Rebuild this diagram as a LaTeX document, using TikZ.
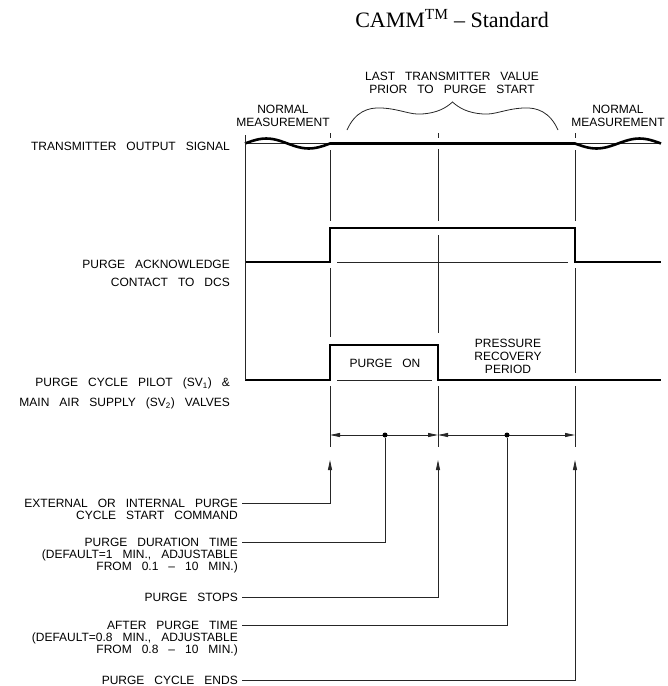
\documentclass[tikz,border=0pt]{standalone}
\usepackage{fontspec}
\newfontfamily\cadfont[WordSpace=3]{Liberation Sans}
\newfontfamily\titlefont{Liberation Serif}
\usetikzlibrary{arrows.meta}

\begin{document}
\begin{tikzpicture}[x=1pt, y=-1pt, >={Stealth[length=10pt,width=4pt,inset=0pt]},
    lbl/.style={font=\cadfont\fontsize{12}{13}\selectfont, inner sep=0pt, align=center},
    note/.style={font=\cadfont\fontsize{12}{12.2}\selectfont, inner sep=0pt, align=right},
    signal/.style={line width=2.6pt, line join=miter},
    guide/.style={line width=0.8pt, black!85},
    dot/.style={circle, fill, inner sep=0pt, minimum size=5pt}]
    \useasboundingbox (0,0) rectangle (668,686);

    % Title
    \node[font=\titlefont\fontsize{22}{24}\selectfont, anchor=base] (title) at (452,27) {CAMM\textsuperscript{TM} – Standard};

    % Top labels
    \node[lbl] (nm1) at (283,116) {NORMAL\\MEASUREMENT};
    \node[lbl] (nm2) at (618,116) {NORMAL\\MEASUREMENT};
    \node[lbl] (last) at (452,83) {LAST TRANSMITTER VALUE\\PRIOR TO PURGE START};
    \draw[guide] (347,130) .. controls (355,112) and (368,107) .. (382,108)
        .. controls (400,109) and (410,115) .. (422,114)
        .. controls (437,113) and (446,108) .. (452.5,102)
        .. controls (459,108) and (468,113) .. (483,114)
        .. controls (495,115) and (505,109) .. (523,108)
        .. controls (537,107) and (550,112) .. (558,130);

    % Signal labels
    \node[lbl, anchor=east] (tos) at (230,146) {TRANSMITTER OUTPUT SIGNAL};
    \node[note, anchor=north east] (ack) at (230,259.7) {PURGE ACKNOWLEDGE\\[6pt]CONTACT TO DCS};
    \node[note, anchor=north east] (sv) at (230,377.3) {PURGE CYCLE PILOT (SV\textsubscript{1}) \&\\[8pt]MAIN AIR SUPPLY (SV\textsubscript{2}) VALVES};

    % Signals
    \draw[guide] (245,143) -- (330,143);
    \draw[guide] (575,143) -- (661,143);
    \draw[signal] plot[smooth, domain=245:330, samples=25] (\x,{143.5-5*sin(4.235*(\x-245))})
        -- (575,143.5) -- plot[smooth, domain=575:661, samples=25] (\x,{143.5+5*sin(4.186*(\x-575))});
    \draw[signal] (245,262) -- (330,262) -- (330,228) -- (575,228) -- (575,262) -- (661,262);
    \draw[guide] (337,262) -- (568,262);
    \draw[signal] (245,380) -- (330,380) -- (330,345) -- (438,345) -- (438,380) -- (661,380);
    \draw[guide] (337,380) -- (432,380);
    \node[lbl] (on) at (385,363) {PURGE ON};
    \node[lbl] (rec) at (508,356) {PRESSURE\\RECOVERY\\PERIOD};

    % Time lines
    \draw[guide] (245,135) -- (245,380);
    \foreach \x/\ya/\yb in {330/133/138, 330/150/221, 330/268/337, 330/386/447,
        438/133/138, 438/149/221, 438/235/333, 438/386/447,
        575/133/138, 575/150/221, 575/268/373, 575/386/447}
        \draw[guide] (\x,\ya) -- (\x,\yb);

    % Durations
    \coordinate (d1) at (330,435);
    \coordinate (d2) at (438,435);
    \coordinate (d3) at (575,435);
    \draw[guide, <->] (d1) -- (d2);
    \draw[guide, <->] (d2) -- (d3);
    \node[dot] (p1) at (385,435) {};
    \node[dot] (p2) at (507,435) {};
    \coordinate (s1) at (330,460);
    \coordinate (s2) at (438,460);
    \coordinate (s3) at (575,460);

    % Event notes
    \node[note, anchor=north east] (ext) at (238,498.7) {EXTERNAL OR INTERNAL PURGE\\CYCLE START COMMAND};
    \node[note, anchor=north east] (dur) at (238,537.7) {PURGE DURATION TIME\\(DEFAULT=1 MIN., ADJUSTABLE\\FROM 0.1 \textendash{} 10 MIN.)};
    \node[note, anchor=east] (stops) at (238,597) {PURGE STOPS};
    \node[note, anchor=north east] (aft) at (238,620.7) {AFTER PURGE TIME\\(DEFAULT=0.8 MIN., ADJUSTABLE\\FROM 0.8 \textendash{} 10 MIN.)};
    \node[note, anchor=east] (ends) at (238,680) {PURGE CYCLE ENDS};

    \draw[guide, ->] (ext.north east) ++(4,4.3) -| (s1);
    \draw[guide] (dur.north east) ++(4,4.3) -| (p1);
    \draw[guide, ->] (stops.east) ++(4,0) -| (s2);
    \draw[guide] (aft.north east) ++(4,4.3) -| (p2);
    \draw[guide, ->] (ends.east) ++(4,0) -| (s3);
\end{tikzpicture}
\end{document}
